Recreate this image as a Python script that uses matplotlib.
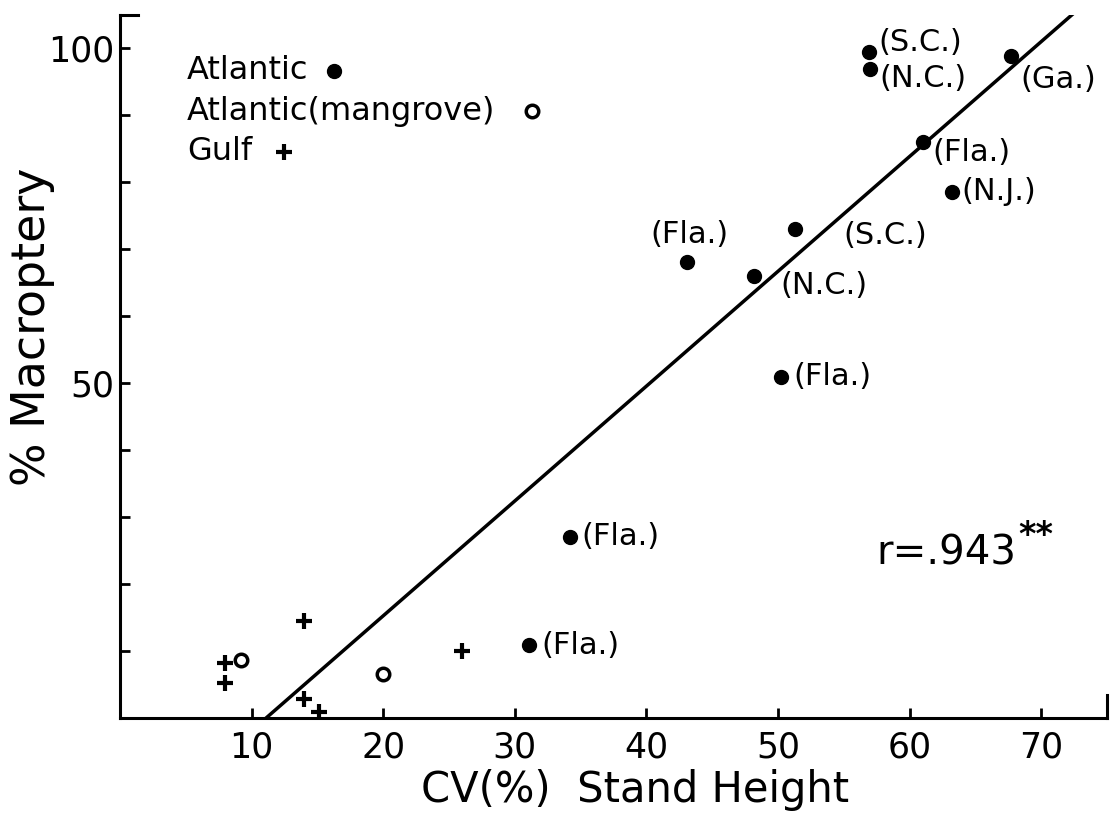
import matplotlib
matplotlib.use("Agg")
from matplotlib import pyplot as plt
import numpy as np

# Atlantic (filled dots), with state labels
atl_x = [56.9, 57.0, 67.7, 61.0, 63.2, 51.3, 43.1, 48.2, 50.2, 34.2, 31.1]
atl_y = [99.5, 97.0, 98.9, 86.1, 78.6, 73.1, 68.1, 66.0, 51.0, 27.1, 10.9]
atl_state = ["(S.C.)", "(N.C.)", "(Ga.)", "(Fla.)", "(N.J.)", "(S.C.)",
             "(Fla.)", "(N.C.)", "(Fla.)", "(Fla.)", "(Fla.)"]

# Atlantic (mangrove) - open circles
mang_x = [9.2, 20.0]
mang_y = [8.7, 6.6]

# Gulf - plus signs
gulf_x = [14.0, 8.0, 8.0, 14.0, 15.1, 26.0]
gulf_y = [14.5, 8.2, 5.2, 2.8, 0.9, 10.0]

# regression line
slope = 1.715
intercept = -19.04
fit_x = [11.1, 72.6]

x_ticks = [10, 20, 30, 40, 50, 60, 70]
y_ticks = [10, 20, 30, 40, 50, 60, 70, 80, 90, 100]
y_ticklabels = ["", "", "", "", "50", "", "", "", "", "100"]

plt.rcParams['font.family'] = ['DejaVu Sans']

fig = plt.figure(figsize=(11.17, 8.18), dpi=100)
ax = fig.add_axes([0.1074, 0.1222, 0.8836, 0.8595])

fx = np.array(fit_x)
ax.plot(fx, slope * fx + intercept, color='black', lw=2.5, zorder=2)

ax.plot(atl_x, atl_y, 'o', color='black', ms=10, zorder=3)
ax.plot(mang_x, mang_y, 'o', mfc='white', mec='black', ms=9, mew=2.5, zorder=3)
ax.plot(gulf_x, gulf_y, '+', color='black', ms=12, mew=3, zorder=3)

# label offsets in points (dx, dy)
offsets = [(7, 7), (7, -7), (7, -17), (7, -8), (7, 0), (35, -5),
           (2, 20), (19, -7), (9, 0), (8, 0), (9, 0)]
for x, y, s, off in zip(atl_x, atl_y, atl_state, offsets):
    ha = 'center' if off == (2, 20) else 'left'
    ax.annotate(s, (x, y), xytext=off, textcoords='offset points',
                ha=ha, va='center', fontsize=22)

# key in upper left
ax.text(5.1, 96.7, "Atlantic", fontsize=23, va='center', ha='left')
ax.plot([16.3], [96.7], 'o', color='black', ms=10)
ax.text(5.1, 90.6, "Atlantic(mangrove)", fontsize=23, va='center', ha='left')
ax.plot([31.3], [90.6], 'o', mfc='white', mec='black', ms=9, mew=2.5)
ax.text(5.1, 84.6, "Gulf", fontsize=23, va='center', ha='left')
ax.plot([12.5], [84.6], '+', color='black', ms=12, mew=3)

ax.text(57.5, 24.5, "r=.943", fontsize=29, va='center', ha='left')
ax.text(68.3, 27.3, "**", fontsize=24, va='center', ha='left', fontweight='bold')

ax.set_xlim(0, 75)
ax.set_ylim(0, 105)
ax.set_xticks(x_ticks)
ax.set_yticks(y_ticks)
ax.set_yticklabels(y_ticklabels)
ax.tick_params(direction='in', length=7, width=2, labelsize=25)
ax.tick_params(axis='x', pad=9)
ax.tick_params(axis='y', pad=4)

for side in ['top', 'right']:
    ax.spines[side].set_visible(False)
for side in ['left', 'bottom']:
    ax.spines[side].set_linewidth(2.2)

# end caps on the axes
ax.plot([0, 0.018], [1, 1], color='black', lw=2.2, transform=ax.transAxes, clip_on=False)
ax.plot([1, 1], [0, 0.033], color='black', lw=2.2, transform=ax.transAxes, clip_on=False)

fig.text(0.5685, 0.034, "CV(%)  Stand Height", fontsize=30, ha='center', va='center')
fig.text(0.029, 0.60, "% Macroptery", fontsize=33, ha='center', va='center', rotation=90)

plt.savefig('out.png', dpi=100)
